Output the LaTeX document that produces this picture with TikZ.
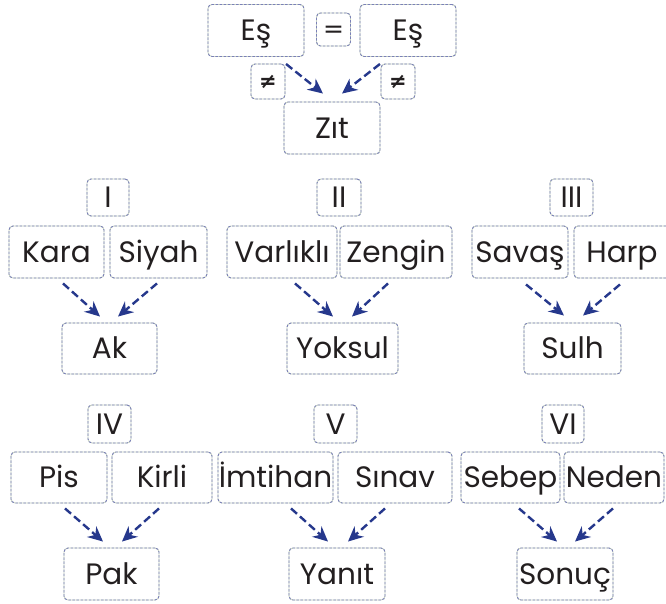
\documentclass[tikz,border=0pt]{standalone}
\usepackage{fontspec}
\setmainfont{Poppins}
\newfontfamily\signfont{DejaVu Sans}
\usetikzlibrary{arrows.meta}
\definecolor{boxline}{RGB}{122,128,184}
\definecolor{boxgap}{RGB}{205,216,196}
\definecolor{arrowblue}{RGB}{38,56,140}
\definecolor{ink}{RGB}{35,31,32}
\tikzstyle{box}=[rounded corners=4pt, draw=boxline, line width=0.9pt,
dash pattern=on 2.5pt off 1.6pt, preaction={draw=boxgap, solid},
inner sep=0pt, text=ink, font=\fontsize{29.5}{30}\selectfont,
text height=20.5pt, text depth=0pt]
\tikzstyle{word}=[box, minimum width=96pt, minimum height=52pt]
\tikzstyle{num}=[box, minimum width=43pt, minimum height=37pt]
\tikzstyle{sign}=[box, minimum width=34pt, minimum height=34pt]
\tikzstyle{link}=[arrowblue, line width=2.4pt, dash pattern=on 8pt off 4pt,
-{Stealth[length=15pt,width=14pt]}]

\begin{document}
\begin{tikzpicture}[x=1pt,y=-1pt]
\useasboundingbox (0,0) rectangle (666,604);
\clip (0,0) rectangle (666,604);

% top
\node[word](esA)at (256,30.5){Eş};
\node[sign, minimum height=33pt, font=\signfont\fontsize{25}{25}\selectfont,
text height=16pt](eq)at (333.5,29.5){=};
\node[word](esB)at (408,30.5){Eş};
\node[sign, minimum height=35pt, font=\signfont\bfseries\fontsize{21}{21}\selectfont,
text height=15pt](neqA)at (268,81.5){≠};
\node[sign, minimum height=35pt, font=\signfont\bfseries\fontsize{21}{21}\selectfont,
text height=15pt](neqB)at (398,81.5){≠};
\node[word](zit)at (332,128){Zıt};

% row one
\node[num, minimum width=42pt](numI)at (108,197.5){I};
\node[num, minimum width=44pt](numII)at (339,197.5){II};
\node[num](numIII)at (571.5,197.5){III};

\node[word, minimum width=95pt](kara)at (56.5,252){Kara};
\node[word, minimum width=97pt](siyah)at (158.5,252){Siyah};
\node[word, minimum width=110pt](varlikli)at (282,252){Varlıklı};
\node[word, minimum width=112pt](zengin)at (396,252){Zengin};
\node[word](savas)at (520,252){Savaş};
\node[word](harp)at (622,252){Harp};

\node[word, minimum width=95pt, minimum height=51pt](ak)at (109.5,348.5){Ak};
\node[word, minimum width=111pt, minimum height=51pt](yoksul)at (342.5,348.5){Yoksul};
\node[word, minimum width=97pt, minimum height=51pt](sulh)at (572.5,348.5){Sulh};

% row two
\node[num, minimum height=38pt](numIV)at (109.5,424){IV};
\node[num, minimum height=38pt](numV)at (335.5,424){V};
\node[num, minimum width=42pt, minimum height=38pt](numVI)at (563,424){VI};

\node[word, minimum height=51pt](pis)at (59,477.5){Pis};
\node[word, minimum width=100pt, minimum height=51pt](kirli)at (162,477.5){Kirli};
\node[word, minimum width=115pt, minimum height=51pt](imtihan)at (275.5,477.5){İmtihan};
\node[word, minimum width=114pt, minimum height=51pt](sinav)at (395,477.5){Sınav};
\node[word, minimum width=99pt, minimum height=51pt](sebep)at (510.5,477.5){Sebep};
\node[word, minimum width=100pt, minimum height=51pt](neden)at (614,477.5){Neden};

\node[word, minimum width=95pt](pak)at (111.5,574){Pak};
\node[word](yanit)at (337,574){Yanıt};
\node[word](sonuc)at (565,574){Sonuç};

\draw[link] ([xshift=30pt,yshift=-7pt]esA.south) -- ([xshift=-9pt,yshift=8pt]zit.north);
\draw[link] ([xshift=-28pt,yshift=-7pt]esB.south) -- ([xshift=10pt,yshift=8pt]zit.north);

\draw[link] ([xshift=6.5pt,yshift=-5pt]kara.south) -- ([xshift=-9.5pt,yshift=6pt]ak.north);
\draw[link] ([xshift=-1.5pt,yshift=-5pt]siyah.south) -- ([xshift=8.5pt,yshift=6pt]ak.north);
\draw[link] ([xshift=13pt,yshift=-5pt]varlikli.south) -- ([xshift=-9.5pt,yshift=6pt]yoksul.north);
\draw[link] ([xshift=-8pt,yshift=-5pt]zengin.south) -- ([xshift=9.5pt,yshift=6pt]yoksul.north);
\draw[link] ([xshift=6pt,yshift=-6pt]savas.south) -- ([xshift=-8.5pt,yshift=7pt]sulh.north);
\draw[link] ([xshift=-2pt,yshift=-6pt]harp.south) -- ([xshift=10.5pt,yshift=7pt]sulh.north);

\draw[link] ([xshift=6pt,yshift=-5pt]pis.south) -- ([xshift=-8.5pt,yshift=6pt]pak.north);
\draw[link] ([xshift=-3pt,yshift=-5pt]kirli.south) -- ([xshift=10.5pt,yshift=6pt]pak.north);
\draw[link] ([xshift=15.5pt,yshift=-5pt]imtihan.south) -- ([xshift=-9pt,yshift=6pt]yanit.north);
\draw[link] ([xshift=-10pt,yshift=-5pt]sinav.south) -- ([xshift=11pt,yshift=6pt]yanit.north);
\draw[link] ([xshift=8.5pt,yshift=-5pt]sebep.south) -- ([xshift=-8pt,yshift=6pt]sonuc.north);
\draw[link] ([xshift=-1pt,yshift=-5pt]neden.south) -- ([xshift=10pt,yshift=6pt]sonuc.north);
\end{tikzpicture}
\end{document}
